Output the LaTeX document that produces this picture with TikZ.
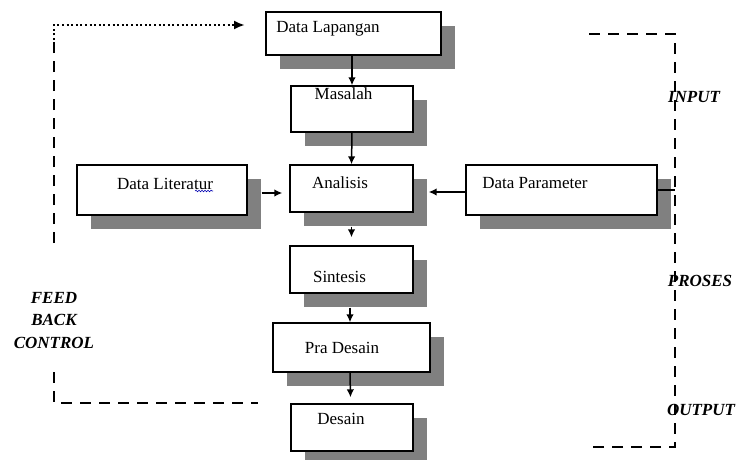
\documentclass[tikz,border=0pt]{standalone}
\usepackage{fontspec}
\setmainfont{Liberation Serif}
\usetikzlibrary{shadows,arrows.meta,calc,decorations.pathmorphing}
\definecolor{shd}{RGB}{128,128,128}
\begin{document}
\begin{tikzpicture}[x=1pt,y=-1pt,
 box/.style={draw=black,line width=1.4pt,fill=white,inner sep=0pt,rectangle,
   drop shadow={shadow xshift=14pt,shadow yshift=-14pt,fill=shd,opacity=1}},
 txt/.style={font=\fontsize{17}{20}\selectfont,anchor=base,inner sep=0pt},
 lbl/.style={font=\fontsize{17}{22.5}\selectfont\bfseries\itshape,anchor=base,inner sep=0pt},
 arr/.style={line width=1.5pt,-{Latex[length=8pt,width=7.5pt]}},
 dsh/.style={line width=2.8pt,dash pattern=on 11pt off 8pt},
 dotl/.style={line width=2.8pt,dash pattern=on 2pt off 2.6pt},
]
\useasboundingbox (0,0) rectangle (740,459);
% boxes
\node[box,minimum width=175pt,minimum height=43pt] (lap) at (353.5,33.5) {};
\node[box,minimum width=122pt,minimum height=46pt] (mas) at (352,109) {};
\node[box,minimum width=170pt,minimum height=50pt] (lit) at (162,190) {};
\node[box,minimum width=123pt,minimum height=47pt] (ana) at (351.5,188.5) {};
\node[box,minimum width=191pt,minimum height=50pt] (par) at (561.5,190) {};
\node[box,minimum width=123pt,minimum height=47pt] (sin) at (351.5,269.5) {};
\node[box,minimum width=157pt,minimum height=49pt] (pra) at (351.5,347.5) {};
\node[box,minimum width=122pt,minimum height=47pt] (des) at (352,427.5) {};
% texts
\node[txt] (tlap) at (328,32) {Data Lapangan};
\node[txt] (tmas) at (343.5,99) {Masalah};
\node[txt] (tlit) at (165,189) {Data Literatur};
\node[txt] (tana) at (340,188) {Analisis};
\node[txt] (tpar) at (535,188) {Data Parameter};
\node[txt] (tsin) at (339.5,282) {Sintesis};
\node[txt] (tpra) at (342,353) {Pra Desain};
\node[txt] (tdes) at (341,424) {Desain};
\draw[blue!70!black,line width=0.6pt,decorate,decoration={snake,amplitude=0.8pt,segment length=3pt}]
  ($(tlit.base east)+(-18,2)$) -- ($(tlit.base east)+(0,2)$);
% connectors
\draw[arr] (mas.north |- lap.south) -- (mas.north);
\draw[arr] (mas.south) -- (ana.north);
\draw[arr] ($(ana.south)+(0,14)$) -- ($(sin.north)+(0,-8)$);
\draw[arr] ($(sin.south)+(-1.5,14)$) -- ($(pra.north)+(-1.5,0)$);
\draw[arr] ($(pra.south)+(-1.5,0)$) -- ($(des.north)+(-1.5,-6)$);
\draw[arr] ($(lit.east)+(14,3)$) -- ($(ana.west |- lit.east)+(-7,3)$);
\draw[arr] ($(par.west)+(0,2)$) -- ($(ana.east)+(15,3.5)$);
% right bracket
\coordinate (rt0) at (589,34);
\coordinate (rt) at (675,34);
\coordinate (rb) at (675,447);
\coordinate (rb0) at (589,447);
\draw[dsh] (rt0) -- (rt) -- (rb) -- (rb0);
\draw[line width=2.8pt] (par.east) -- (rt |- par.east);
% feedback
\coordinate (fa) at (54,243);
\coordinate (fb) at (54,40);
\coordinate (fc) at (54,25);
\coordinate (fd) at (245,25);
\draw[dsh] (fa) -- (fb);
\draw[dotl,-{Latex[length=11pt,width=9pt]}] (fb) -- (fc) -- (fd);
\coordinate (fe) at (54,372);
\coordinate (ff) at (54,403);
\coordinate (fg) at (258,403);
\draw[dsh] (fe) -- (ff) -- (fg);
% labels
\node[lbl,align=center,anchor=base] (fbc) at (54,348) {FEED\\BACK\\CONTROL};
\node[lbl] (lin) at (694,102) {INPUT};
\node[lbl] (lpr) at (700,286) {PROSES};
\node[lbl] (lou) at (701,415) {OUTPUT};
\end{tikzpicture}
\end{document}
